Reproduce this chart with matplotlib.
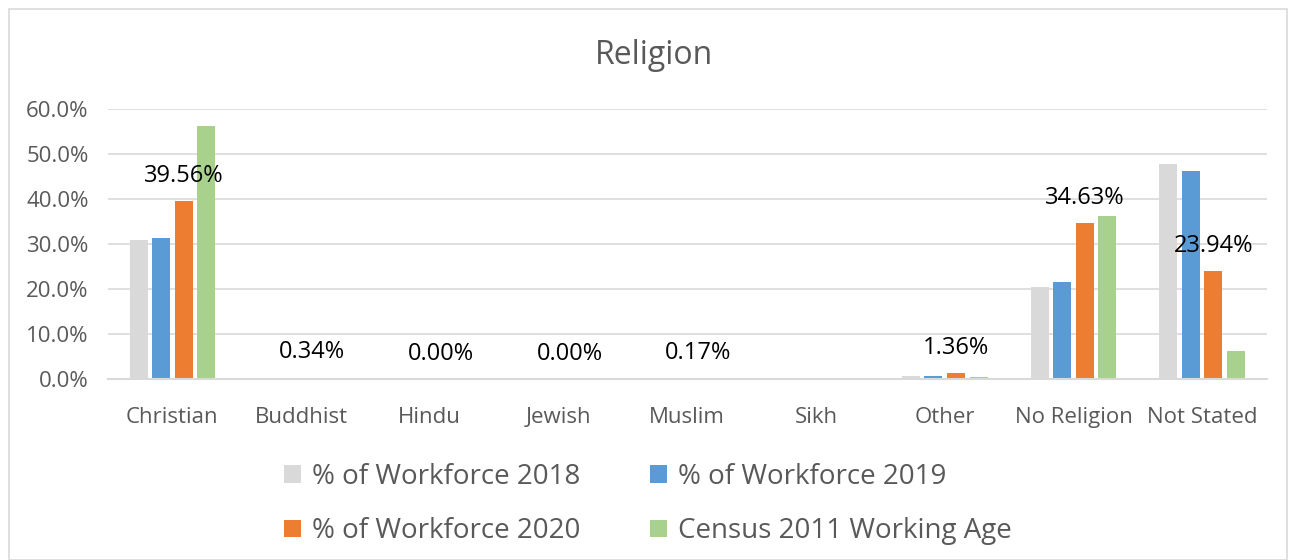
import numpy as np
import matplotlib.pyplot as plt
from matplotlib.patches import Rectangle

plt.rcParams['font.family'] = ['Open Sans', 'DejaVu Sans']

categories = ["Christian", "Buddhist", "Hindu", "Jewish", "Muslim", "Sikh",
              "Other", "No Religion", "Not Stated"]
wf2018 = [30.9, 0.1, 0.0, 0.0, 0.1, 0.0, 0.7, 20.5, 47.9]
wf2019 = [31.4, 0.1, 0.0, 0.0, 0.1, 0.0, 0.6, 21.6, 46.3]
wf2020 = [39.56, 0.34, 0.00, 0.00, 0.17, 0.0, 1.36, 34.63, 23.94]
census = [56.2, 0.2, 0.1, 0.0, 0.2, 0.0, 0.5, 36.2, 6.3]
series_names = ["% of Workforce 2018", "% of Workforce 2019",
                "% of Workforce 2020", "Census 2011 Working Age"]
colors = ["#D9D9D9", "#5B9BD5", "#ED7D31", "#A9D18E"]
# only the 2020 bars carry labels (Sikh has none)
label_idx = [0, 1, 2, 3, 4, 6, 7, 8]

fig = plt.figure(figsize=(12.96, 5.6), dpi=100)
ax = fig.add_axes([0.0833, 0.323, 0.894, 0.482])

x = np.arange(len(categories))
w = 0.14
step = 0.175
data = [wf2018, wf2019, wf2020, census]
bars = []
for i, vals in enumerate(data):
    bars.append(ax.bar(x + (i - 1.5) * step, vals, w, color=colors[i],
                       label=series_names[i], zorder=3))

for j in label_idx:
    ax.text(x[j] + 0.5 * step, wf2020[j] + 3.0, "%.2f%%" % wf2020[j],
            ha="center", va="bottom", fontsize=17, color="#000000", zorder=4)

ax.set_xlim(-0.5, len(categories) - 0.5)
ax.set_ylim(0, 60)
ax.set_yticks(np.arange(0, 61, 10))
ax.set_yticklabels(["%.1f%%" % v for v in np.arange(0, 61, 10)])
ax.set_xticks(x)
ax.set_xticklabels(categories)
ax.tick_params(axis="both", length=0, labelsize=16, colors="#595959")
ax.tick_params(axis="x", pad=20)
ax.tick_params(axis="y", pad=14)
ax.grid(axis="y", color="#D9D9D9", linewidth=1.2, zorder=0)
for s in ["top", "right", "left"]:
    ax.spines[s].set_visible(False)
ax.spines["bottom"].set_color("#D9D9D9")
ax.spines["bottom"].set_linewidth(1.5)
ax.spines["bottom"].set_zorder(5)

fig.text(0.505, 0.9, "Religion", ha="center", va="center", fontsize=23, color="#595959")

# matplotlib fills legend columns first, so reorder for row-wise layout
order = [0, 2, 1, 3]
fig.legend([bars[k] for k in order], [series_names[k] for k in order],
           loc="upper center", bbox_to_anchor=(0.5, 0.218), ncol=2, frameon=False,
           fontsize=20, handlelength=0.6, handleheight=0.6, handletextpad=0.4,
           columnspacing=2.5, labelspacing=0.95, labelcolor="#595959")

fig.patches.append(Rectangle((0.007, 0.0), 0.986, 0.984, transform=fig.transFigure,
                             fill=False, edgecolor="#D9D9D9", linewidth=1.2))

fig.savefig("out.png", dpi=100)
